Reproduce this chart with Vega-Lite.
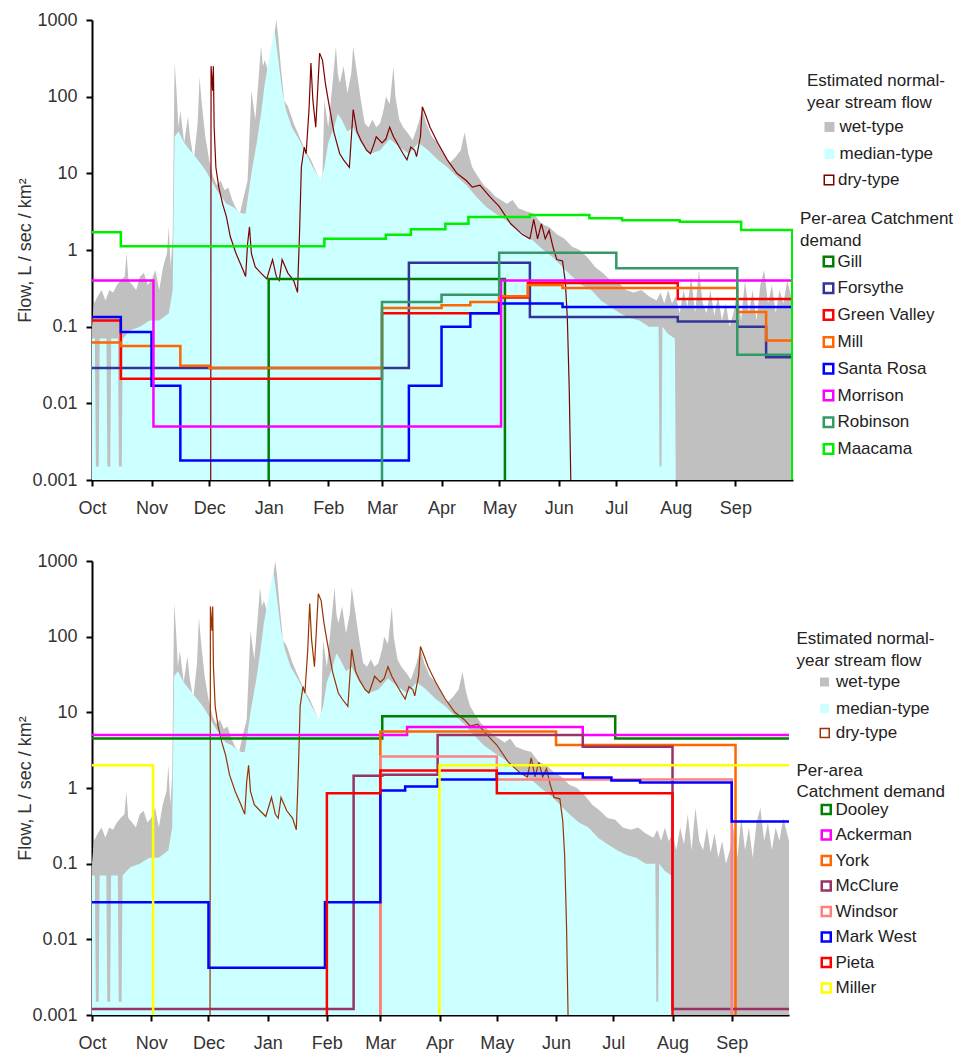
{
"$schema": "https://vega.github.io/schema/vega-lite/v6.json",
"padding": {"left": 16, "top": 11, "right": 5, "bottom": 5},
"spacing": 35,
"datasets": {
"flow": [
{"series":"wet-type","day":0,"value":0.1},{"series":"wet-type","day":1,"value":0.2},{"series":"wet-type","day":3,"value":0.25},{"series":"wet-type","day":5,"value":0.3},{"series":"wet-type","day":7,"value":0.22},{"series":"wet-type","day":9,"value":0.3},{"series":"wet-type","day":11,"value":0.28},{"series":"wet-type","day":13,"value":0.35},{"series":"wet-type","day":15,"value":0.4},{"series":"wet-type","day":17,"value":0.45},{"series":"wet-type","day":18,"value":0.9},{"series":"wet-type","day":19,"value":0.4},{"series":"wet-type","day":21,"value":0.35},{"series":"wet-type","day":23,"value":0.3},{"series":"wet-type","day":25,"value":0.45},{"series":"wet-type","day":27,"value":0.5},{"series":"wet-type","day":29,"value":0.35},{"series":"wet-type","day":31,"value":0.4},{"series":"wet-type","day":33,"value":0.55},{"series":"wet-type","day":35,"value":0.3},{"series":"wet-type","day":37,"value":0.6},{"series":"wet-type","day":39,"value":0.9},{"series":"wet-type","day":40,"value":2},{"series":"wet-type","day":41,"value":0.6},{"series":"wet-type","day":42,"value":1.5},{"series":"wet-type","day":43,"value":280},{"series":"wet-type","day":44,"value":120},{"series":"wet-type","day":45,"value":40},{"series":"wet-type","day":46,"value":65},{"series":"wet-type","day":48,"value":25},{"series":"wet-type","day":50,"value":55},{"series":"wet-type","day":51,"value":30},{"series":"wet-type","day":53,"value":15},{"series":"wet-type","day":55,"value":45},{"series":"wet-type","day":56,"value":180},{"series":"wet-type","day":57,"value":90},{"series":"wet-type","day":59,"value":30},{"series":"wet-type","day":61,"value":15},{"series":"wet-type","day":63,"value":9},{"series":"wet-type","day":65,"value":7},{"series":"wet-type","day":67,"value":8},{"series":"wet-type","day":69,"value":6},{"series":"wet-type","day":71,"value":6.5},{"series":"wet-type","day":73,"value":4.5},{"series":"wet-type","day":75,"value":3.5},{"series":"wet-type","day":77,"value":3},{"series":"wet-type","day":79,"value":5},{"series":"wet-type","day":81,"value":8},{"series":"wet-type","day":83,"value":120},{"series":"wet-type","day":85,"value":50},{"series":"wet-type","day":86,"value":100},{"series":"wet-type","day":88,"value":450},{"series":"wet-type","day":89,"value":250},{"series":"wet-type","day":90,"value":300},{"series":"wet-type","day":92,"value":200},{"series":"wet-type","day":94,"value":450},{"series":"wet-type","day":96,"value":1000},{"series":"wet-type","day":97,"value":600},{"series":"wet-type","day":98,"value":300},{"series":"wet-type","day":100,"value":90},{"series":"wet-type","day":102,"value":75},{"series":"wet-type","day":105,"value":45},{"series":"wet-type","day":108,"value":30},{"series":"wet-type","day":111,"value":20},{"series":"wet-type","day":114,"value":15},{"series":"wet-type","day":117,"value":10},{"series":"wet-type","day":119,"value":7.5},{"series":"wet-type","day":120,"value":10},{"series":"wet-type","day":121,"value":90},{"series":"wet-type","day":123,"value":40},{"series":"wet-type","day":125,"value":130},{"series":"wet-type","day":127,"value":450},{"series":"wet-type","day":128,"value":200},{"series":"wet-type","day":129,"value":150},{"series":"wet-type","day":131,"value":250},{"series":"wet-type","day":133,"value":110},{"series":"wet-type","day":135,"value":200},{"series":"wet-type","day":136,"value":450},{"series":"wet-type","day":138,"value":200},{"series":"wet-type","day":140,"value":90},{"series":"wet-type","day":142,"value":45},{"series":"wet-type","day":144,"value":40},{"series":"wet-type","day":146,"value":50},{"series":"wet-type","day":148,"value":40},{"series":"wet-type","day":150,"value":45},{"series":"wet-type","day":152,"value":70},{"series":"wet-type","day":153,"value":100},{"series":"wet-type","day":155,"value":80},{"series":"wet-type","day":157,"value":250},{"series":"wet-type","day":158,"value":100},{"series":"wet-type","day":160,"value":50},{"series":"wet-type","day":162,"value":40},{"series":"wet-type","day":165,"value":32},{"series":"wet-type","day":167,"value":27},{"series":"wet-type","day":170,"value":45},{"series":"wet-type","day":172,"value":70},{"series":"wet-type","day":174,"value":45},{"series":"wet-type","day":177,"value":30},{"series":"wet-type","day":180,"value":25},{"series":"wet-type","day":183,"value":18},{"series":"wet-type","day":186,"value":13.5},{"series":"wet-type","day":189,"value":16},{"series":"wet-type","day":192,"value":20},{"series":"wet-type","day":194,"value":34},{"series":"wet-type","day":196,"value":18},{"series":"wet-type","day":198,"value":12},{"series":"wet-type","day":201,"value":9},{"series":"wet-type","day":204,"value":7},{"series":"wet-type","day":207,"value":6},{"series":"wet-type","day":210,"value":5},{"series":"wet-type","day":213,"value":4.5},{"series":"wet-type","day":216,"value":4},{"series":"wet-type","day":219,"value":4.5},{"series":"wet-type","day":222,"value":3.5},{"series":"wet-type","day":226,"value":3.2},{"series":"wet-type","day":230,"value":3},{"series":"wet-type","day":234,"value":2.2},{"series":"wet-type","day":238,"value":2},{"series":"wet-type","day":242,"value":1.6},{"series":"wet-type","day":246,"value":1.4},{"series":"wet-type","day":250,"value":1.1},{"series":"wet-type","day":254,"value":1.0},{"series":"wet-type","day":258,"value":0.8},{"series":"wet-type","day":262,"value":0.6},{"series":"wet-type","day":266,"value":0.5},{"series":"wet-type","day":270,"value":0.4},{"series":"wet-type","day":274,"value":0.38},{"series":"wet-type","day":278,"value":0.3},{"series":"wet-type","day":282,"value":0.28},{"series":"wet-type","day":286,"value":0.3},{"series":"wet-type","day":290,"value":0.25},{"series":"wet-type","day":294,"value":0.22},{"series":"wet-type","day":296,"value":0.28},{"series":"wet-type","day":298,"value":0.2},{"series":"wet-type","day":300,"value":0.3},{"series":"wet-type","day":302,"value":0.2},{"series":"wet-type","day":304,"value":0.25},{"series":"wet-type","day":306,"value":0.15},{"series":"wet-type","day":308,"value":0.3},{"series":"wet-type","day":310,"value":0.18},{"series":"wet-type","day":312,"value":0.45},{"series":"wet-type","day":314,"value":0.15},{"series":"wet-type","day":316,"value":0.55},{"series":"wet-type","day":318,"value":0.2},{"series":"wet-type","day":320,"value":0.15},{"series":"wet-type","day":322,"value":0.3},{"series":"wet-type","day":324,"value":0.14},{"series":"wet-type","day":326,"value":0.25},{"series":"wet-type","day":328,"value":0.12},{"series":"wet-type","day":330,"value":0.2},{"series":"wet-type","day":332,"value":0.1},{"series":"wet-type","day":334,"value":0.15},{"series":"wet-type","day":336,"value":0.3},{"series":"wet-type","day":338,"value":0.12},{"series":"wet-type","day":340,"value":0.4},{"series":"wet-type","day":342,"value":0.15},{"series":"wet-type","day":344,"value":0.3},{"series":"wet-type","day":346,"value":0.12},{"series":"wet-type","day":348,"value":0.35},{"series":"wet-type","day":350,"value":0.55},{"series":"wet-type","day":352,"value":0.2},{"series":"wet-type","day":354,"value":0.35},{"series":"wet-type","day":356,"value":0.15},{"series":"wet-type","day":358,"value":0.3},{"series":"wet-type","day":360,"value":0.2},{"series":"wet-type","day":362,"value":0.4},{"series":"wet-type","day":364,"value":0.25},{"series":"wet-type","day":365,"value":0.2},
{"series":"median-type","day":0,"value":0.07},{"series":"median-type","day":1.5,"value":0.07},{"series":"median-type","day":2,"value":0.0015},{"series":"median-type","day":3.5,"value":0.0015},{"series":"median-type","day":4,"value":0.07},{"series":"median-type","day":7.5,"value":0.07},{"series":"median-type","day":8,"value":0.0015},{"series":"median-type","day":9.5,"value":0.0015},{"series":"median-type","day":10,"value":0.07},{"series":"median-type","day":13.5,"value":0.07},{"series":"median-type","day":14,"value":0.0015},{"series":"median-type","day":15.5,"value":0.0015},{"series":"median-type","day":16,"value":0.07},{"series":"median-type","day":20,"value":0.09},{"series":"median-type","day":25,"value":0.1},{"series":"median-type","day":30,"value":0.12},{"series":"median-type","day":35,"value":0.12},{"series":"median-type","day":40,"value":0.15},{"series":"median-type","day":42,"value":0.3},{"series":"median-type","day":43,"value":30},{"series":"median-type","day":45,"value":35},{"series":"median-type","day":48,"value":25},{"series":"median-type","day":51,"value":20},{"series":"median-type","day":55,"value":15},{"series":"median-type","day":58,"value":12},{"series":"median-type","day":60,"value":10},{"series":"median-type","day":65,"value":6},{"series":"median-type","day":70,"value":4},{"series":"median-type","day":73,"value":3.7},{"series":"median-type","day":78,"value":3},{"series":"median-type","day":80,"value":3},{"series":"median-type","day":83,"value":10},{"series":"median-type","day":86,"value":27},{"series":"median-type","day":88,"value":60},{"series":"median-type","day":90,"value":150},{"series":"median-type","day":93,"value":400},{"series":"median-type","day":95,"value":750},{"series":"median-type","day":97,"value":300},{"series":"median-type","day":99,"value":120},{"series":"median-type","day":101,"value":68},{"series":"median-type","day":104,"value":40},{"series":"median-type","day":108,"value":27},{"series":"median-type","day":112,"value":17},{"series":"median-type","day":115,"value":12},{"series":"median-type","day":119,"value":8},{"series":"median-type","day":121,"value":12},{"series":"median-type","day":123,"value":25},{"series":"median-type","day":126,"value":40},{"series":"median-type","day":128,"value":60},{"series":"median-type","day":130,"value":50},{"series":"median-type","day":133,"value":35},{"series":"median-type","day":136,"value":40},{"series":"median-type","day":140,"value":25},{"series":"median-type","day":145,"value":18},{"series":"median-type","day":150,"value":20},{"series":"median-type","day":155,"value":28},{"series":"median-type","day":160,"value":22},{"series":"median-type","day":165,"value":18},{"series":"median-type","day":170,"value":25},{"series":"median-type","day":175,"value":20},{"series":"median-type","day":180,"value":15},{"series":"median-type","day":185,"value":12},{"series":"median-type","day":190,"value":9},{"series":"median-type","day":195,"value":7},{"series":"median-type","day":200,"value":5},{"series":"median-type","day":205,"value":3.7},{"series":"median-type","day":210,"value":3},{"series":"median-type","day":215,"value":2.5},{"series":"median-type","day":220,"value":2},{"series":"median-type","day":225,"value":1.6},{"series":"median-type","day":230,"value":1.3},{"series":"median-type","day":235,"value":1.0},{"series":"median-type","day":240,"value":0.8},{"series":"median-type","day":245,"value":0.6},{"series":"median-type","day":250,"value":0.45},{"series":"median-type","day":255,"value":0.35},{"series":"median-type","day":260,"value":0.3},{"series":"median-type","day":265,"value":0.22},{"series":"median-type","day":270,"value":0.18},{"series":"median-type","day":275,"value":0.15},{"series":"median-type","day":280,"value":0.13},{"series":"median-type","day":285,"value":0.12},{"series":"median-type","day":290,"value":0.1},{"series":"median-type","day":295,"value":0.1},{"series":"median-type","day":295.5,"value":0.0015},{"series":"median-type","day":296.5,"value":0.0015},{"series":"median-type","day":297,"value":0.1},{"series":"median-type","day":300,"value":0.08},{"series":"median-type","day":303.5,"value":0.07},{"series":"median-type","day":304,"value":0.0005},
{"series":"dry-type","day":0,"value":0.0005},{"series":"dry-type","day":61.8,"value":0.0005},{"series":"dry-type","day":62,"value":250},{"series":"dry-type","day":62.8,"value":120},{"series":"dry-type","day":63.2,"value":250},{"series":"dry-type","day":63.6,"value":40},{"series":"dry-type","day":64.5,"value":12},{"series":"dry-type","day":66,"value":6.6},{"series":"dry-type","day":68,"value":4},{"series":"dry-type","day":70,"value":2.7},{"series":"dry-type","day":72,"value":1.5},{"series":"dry-type","day":75,"value":0.9},{"series":"dry-type","day":78,"value":0.6},{"series":"dry-type","day":80,"value":0.45},{"series":"dry-type","day":81,"value":1.2},{"series":"dry-type","day":82,"value":2},{"series":"dry-type","day":83,"value":0.9},{"series":"dry-type","day":85,"value":0.6},{"series":"dry-type","day":88,"value":0.5},{"series":"dry-type","day":91,"value":0.42},{"series":"dry-type","day":94,"value":0.75},{"series":"dry-type","day":96,"value":0.45},{"series":"dry-type","day":97.5,"value":0.4},{"series":"dry-type","day":99,"value":0.75},{"series":"dry-type","day":102,"value":0.5},{"series":"dry-type","day":105,"value":0.4},{"series":"dry-type","day":107,"value":0.28},{"series":"dry-type","day":108,"value":1.5},{"series":"dry-type","day":109,"value":12},{"series":"dry-type","day":110.5,"value":22},{"series":"dry-type","day":111.5,"value":18},{"series":"dry-type","day":113,"value":68},{"series":"dry-type","day":114,"value":275},{"series":"dry-type","day":115,"value":90},{"series":"dry-type","day":116.5,"value":40},{"series":"dry-type","day":118.5,"value":370},{"series":"dry-type","day":120,"value":300},{"series":"dry-type","day":121.5,"value":150},{"series":"dry-type","day":123,"value":90},{"series":"dry-type","day":126,"value":34},{"series":"dry-type","day":129,"value":18},{"series":"dry-type","day":131,"value":15},{"series":"dry-type","day":134,"value":12},{"series":"dry-type","day":136,"value":68},{"series":"dry-type","day":138,"value":35},{"series":"dry-type","day":140,"value":27},{"series":"dry-type","day":143,"value":20},{"series":"dry-type","day":145,"value":18},{"series":"dry-type","day":147,"value":25},{"series":"dry-type","day":148,"value":30},{"series":"dry-type","day":151,"value":25},{"series":"dry-type","day":153,"value":28},{"series":"dry-type","day":155,"value":40},{"series":"dry-type","day":157,"value":30},{"series":"dry-type","day":160,"value":22},{"series":"dry-type","day":162,"value":18},{"series":"dry-type","day":164,"value":15},{"series":"dry-type","day":166,"value":22},{"series":"dry-type","day":168,"value":20},{"series":"dry-type","day":169,"value":16.5},{"series":"dry-type","day":171,"value":30},{"series":"dry-type","day":172,"value":74},{"series":"dry-type","day":174,"value":55},{"series":"dry-type","day":176,"value":40},{"series":"dry-type","day":180,"value":25},{"series":"dry-type","day":185,"value":15},{"series":"dry-type","day":190,"value":10},{"series":"dry-type","day":195,"value":8},{"series":"dry-type","day":198,"value":6.6},{"series":"dry-type","day":202,"value":7},{"series":"dry-type","day":207,"value":5},{"series":"dry-type","day":212,"value":3.7},{"series":"dry-type","day":218,"value":2.2},{"series":"dry-type","day":224,"value":1.6},{"series":"dry-type","day":228,"value":1.4},{"series":"dry-type","day":230,"value":2.5},{"series":"dry-type","day":232,"value":1.4},{"series":"dry-type","day":234,"value":2.2},{"series":"dry-type","day":236,"value":1.4},{"series":"dry-type","day":238,"value":1.8},{"series":"dry-type","day":240,"value":1.1},{"series":"dry-type","day":242,"value":0.75},{"series":"dry-type","day":245,"value":0.72},{"series":"dry-type","day":246.5,"value":0.37},{"series":"dry-type","day":247.5,"value":0.13},{"series":"dry-type","day":248.5,"value":0.015},{"series":"dry-type","day":249.5,"value":0.0005},{"series":"dry-type","day":365,"value":0.0005}
],
"demandTop": [
{"catchment":"Gill","day":0,"value":0.0005},{"catchment":"Gill","day":92,"value":0.42},{"catchment":"Gill","day":215,"value":0.0005},{"catchment":"Gill","day":365,"value":0.0005},
{"catchment":"Forsythe","day":0,"value":0.029},{"catchment":"Forsythe","day":165,"value":0.68},{"catchment":"Forsythe","day":228,"value":0.134},{"catchment":"Forsythe","day":305,"value":0.117},{"catchment":"Forsythe","day":336,"value":0.1},{"catchment":"Forsythe","day":351,"value":0.04},{"catchment":"Forsythe","day":365,"value":0.04},
{"catchment":"Green Valley","day":0,"value":0.12},{"catchment":"Green Valley","day":15,"value":0.021},{"catchment":"Green Valley","day":151,"value":0.15},{"catchment":"Green Valley","day":212,"value":0.24},{"catchment":"Green Valley","day":227,"value":0.37},{"catchment":"Green Valley","day":305,"value":0.23},{"catchment":"Green Valley","day":365,"value":0.23},
{"catchment":"Mill","day":0,"value":0.062},{"catchment":"Mill","day":15,"value":0.056},{"catchment":"Mill","day":46,"value":0.031},{"catchment":"Mill","day":61,"value":0.029},{"catchment":"Mill","day":151,"value":0.175},{"catchment":"Mill","day":182,"value":0.19},{"catchment":"Mill","day":197,"value":0.21},{"catchment":"Mill","day":212,"value":0.25},{"catchment":"Mill","day":227,"value":0.35},{"catchment":"Mill","day":245,"value":0.32},{"catchment":"Mill","day":336,"value":0.155},{"catchment":"Mill","day":351,"value":0.066},{"catchment":"Mill","day":365,"value":0.066},
{"catchment":"Santa Rosa","day":0,"value":0.134},{"catchment":"Santa Rosa","day":15,"value":0.085},{"catchment":"Santa Rosa","day":31,"value":0.017},{"catchment":"Santa Rosa","day":46,"value":0.0018},{"catchment":"Santa Rosa","day":165,"value":0.017},{"catchment":"Santa Rosa","day":182,"value":0.1},{"catchment":"Santa Rosa","day":197,"value":0.15},{"catchment":"Santa Rosa","day":212,"value":0.2},{"catchment":"Santa Rosa","day":245,"value":0.18},{"catchment":"Santa Rosa","day":365,"value":0.18},
{"catchment":"Morrison","day":0,"value":0.4},{"catchment":"Morrison","day":32,"value":0.005},{"catchment":"Morrison","day":213,"value":0.4},{"catchment":"Morrison","day":365,"value":0.4},
{"catchment":"Robinson","day":0,"value":0.0005},{"catchment":"Robinson","day":151,"value":0.21},{"catchment":"Robinson","day":182,"value":0.26},{"catchment":"Robinson","day":212,"value":0.92},{"catchment":"Robinson","day":273,"value":0.58},{"catchment":"Robinson","day":336,"value":0.043},{"catchment":"Robinson","day":365,"value":0.043},
{"catchment":"Maacama","day":0,"value":1.7},{"catchment":"Maacama","day":15,"value":1.12},{"catchment":"Maacama","day":121,"value":1.4},{"catchment":"Maacama","day":153,"value":1.58},{"catchment":"Maacama","day":166,"value":1.87},{"catchment":"Maacama","day":184,"value":2.2},{"catchment":"Maacama","day":196,"value":2.7},{"catchment":"Maacama","day":228,"value":2.87},{"catchment":"Maacama","day":259,"value":2.6},{"catchment":"Maacama","day":276,"value":2.45},{"catchment":"Maacama","day":306,"value":2.33},{"catchment":"Maacama","day":338,"value":1.82},{"catchment":"Maacama","day":364.6,"value":0.0005}
],
"demandBottom": [
{"catchment":"Dooley","day":0,"value":4.5},{"catchment":"Dooley","day":152,"value":8.9},{"catchment":"Dooley","day":274,"value":4.5},{"catchment":"Dooley","day":365,"value":4.5},
{"catchment":"Ackerman","day":0,"value":5.0},{"catchment":"Ackerman","day":165,"value":6.4},{"catchment":"Ackerman","day":257,"value":5.0},{"catchment":"Ackerman","day":365,"value":5.0},
{"catchment":"York","day":0,"value":0.0005},{"catchment":"York","day":151,"value":5.6},{"catchment":"York","day":243,"value":3.7},{"catchment":"York","day":337,"value":0.0005},{"catchment":"York","day":365,"value":0.0005},
{"catchment":"McClure","day":0,"value":0.0012},{"catchment":"McClure","day":137,"value":1.45},{"catchment":"McClure","day":152,"value":1.5},{"catchment":"McClure","day":181,"value":5.0},{"catchment":"McClure","day":257,"value":3.5},{"catchment":"McClure","day":304,"value":0.0012},{"catchment":"McClure","day":365,"value":0.0012},
{"catchment":"Windsor","day":0,"value":0.0005},{"catchment":"Windsor","day":151,"value":2.6},{"catchment":"Windsor","day":212,"value":1.3},{"catchment":"Windsor","day":335,"value":0.0005},{"catchment":"Windsor","day":365,"value":0.0005},
{"catchment":"Mark West","day":0,"value":0.031},{"catchment":"Mark West","day":61,"value":0.0042},{"catchment":"Mark West","day":122,"value":0.031},{"catchment":"Mark West","day":151,"value":0.93},{"catchment":"Mark West","day":164,"value":1.05},{"catchment":"Mark West","day":181,"value":1.3},{"catchment":"Mark West","day":212,"value":1.55},{"catchment":"Mark West","day":257,"value":1.38},{"catchment":"Mark West","day":272,"value":1.26},{"catchment":"Mark West","day":287,"value":1.18},{"catchment":"Mark West","day":335,"value":0.36},{"catchment":"Mark West","day":365,"value":0.36},
{"catchment":"Pieta","day":0,"value":0.0005},{"catchment":"Pieta","day":123,"value":0.85},{"catchment":"Pieta","day":151,"value":1.7},{"catchment":"Pieta","day":212,"value":0.85},{"catchment":"Pieta","day":304,"value":0.0005},{"catchment":"Pieta","day":365,"value":0.0005},
{"catchment":"Miller","day":0,"value":2.0},{"catchment":"Miller","day":32,"value":0.0005},{"catchment":"Miller","day":182,"value":2.0},{"catchment":"Miller","day":365,"value":2.0}
]
},
"config": {
"font": "Liberation Sans",
"view": {"stroke": null},
"axis": {"grid": false, "domainColor": "#000", "domainWidth": 2, "tickColor": "#000", "tickWidth": 2, "tickSize": 6, "labelFont": "Liberation Sans", "labelFontSize": 18, "labelColor": "#333", "titleFont": "Liberation Sans", "titleFontSize": 18, "titleFontWeight": "normal", "titleColor": "#333"},
"legend": {"labelFont": "Liberation Sans", "labelFontSize": 17, "labelColor": "#222", "titleFont": "Liberation Sans", "titleFontSize": 17, "titleFontWeight": "normal", "titleColor": "#222", "titleLineHeight": 22, "padding": 0, "symbolType": "square", "direction": "vertical", "orient": "none", "labelLimit": 0, "titleLimit": 0}
},
"resolve": {"scale": {"x": "independent", "y": "independent", "fill": "independent", "stroke": "independent", "color": "independent"}, "legend": {"fill": "independent", "stroke": "independent", "color": "independent"}},
"vconcat": [
{
"width": 701, "height": 460,
"encoding": {
"x": {"field": "day", "type": "quantitative", "scale": {"domain": [0, 365], "nice": false, "zero": false}, "axis": {"title": null, "values": [0,31,61,92,123,151,182,212,243,273,304,335], "labelExpr": "['Oct','Nov','Dec','Jan','Feb','Mar','Apr','May','Jun','Jul','Aug','Sep'][indexof([0,31,61,92,123,151,182,212,243,273,304,335], datum.value)]", "labelFlush": false, "labelOverlap": false, "labelPadding": 13}},
"y": {"field": "value", "type": "quantitative", "scale": {"type": "log", "domain": [0.001, 1000], "nice": false}, "axis": {"title": "Flow, L / sec / km²", "values": [0.001,0.01,0.1,1,10,100,1000], "labelExpr": "format(datum.value, '.3~f')", "labelPadding": 9, "labelOverlap": false, "titleX": -67, "titleY": 230, "titleAngle": 270, "titleBaseline": "middle"}}
},
"layer": [
{"data": {"name": "flow"}, "transform": [{"filter": "datum.series === 'wet-type'"}], "mark": {"type": "area", "clip": true}, "encoding": {"y2": {"datum": 0.0005}, "fill": {"field": "series", "type": "nominal", "scale": {"domain": ["wet-type", "median-type"], "range": ["#C0C0C0", "#CCFFFF"]}, "legend": {"title": ["Estimated normal-", "year stream flow"], "legendX": 715, "legendY": 52.5, "symbolSize": 100, "symbolStrokeWidth": 0, "symbolOffset": 14, "labelOffset": 1.5, "rowPadding": 9, "titlePadding": 7}}}},
{"data": {"name": "flow"}, "transform": [{"filter": "datum.series === 'median-type'"}], "mark": {"type": "area", "clip": true}, "encoding": {"y2": {"datum": 0.0005}, "fill": {"field": "series", "type": "nominal"}}},
{"data": {"name": "flow"}, "transform": [{"filter": "datum.series === 'dry-type'"}], "mark": {"type": "line", "clip": true, "strokeWidth": 1.2}, "encoding": {"stroke": {"field": "series", "type": "nominal", "scale": {"domain": ["dry-type"], "range": ["#800000"]}, "legend": {"title": null, "legendX": 715, "legendY": 151.5, "symbolSize": 90, "symbolStrokeWidth": 1.5, "symbolFillColor": "transparent", "symbolOffset": 13.5, "labelOffset": 0.5}}}},
{"data": {"name": "demandTop"}, "mark": {"type": "line", "interpolate": "step-after", "clip": true, "strokeWidth": 2.5}, "encoding": {"color": {"field": "catchment", "type": "nominal", "scale": {"domain": ["Gill", "Forsythe", "Green Valley", "Mill", "Santa Rosa", "Morrison", "Robinson", "Maacama"], "range": ["#007F00", "#333399", "#FF0000", "#FF6600", "#0000FF", "#FF00FF", "#339966", "#00EE00"]}, "legend": {"title": ["Per-area Catchment", "demand"], "legendX": 708, "legendY": 190.5, "symbolSize": 90, "symbolStrokeWidth": 2.5, "symbolFillColor": "transparent", "symbolOffset": 20, "labelOffset": 0.5, "rowPadding": 5.8, "titlePadding": 3.5}}}}
]
},
{
"width": 697, "height": 454,
"encoding": {
"x": {"field": "day", "type": "quantitative", "scale": {"domain": [0, 365], "nice": false, "zero": false}, "axis": {"title": null, "values": [0,31,61,92,123,151,182,212,243,273,304,335], "labelExpr": "['Oct','Nov','Dec','Jan','Feb','Mar','Apr','May','Jun','Jul','Aug','Sep'][indexof([0,31,61,92,123,151,182,212,243,273,304,335], datum.value)]", "labelFlush": false, "labelOverlap": false, "labelPadding": 13}},
"y": {"field": "value", "type": "quantitative", "scale": {"type": "log", "domain": [0.001, 1000], "nice": false}, "axis": {"title": "Flow, L / sec / km²", "values": [0.001,0.01,0.1,1,10,100,1000], "labelExpr": "format(datum.value, '.3~f')", "labelPadding": 9, "labelOverlap": false, "titleX": -67, "titleY": 227, "titleAngle": 270, "titleBaseline": "middle"}}
},
"layer": [
{"data": {"name": "flow"}, "transform": [{"filter": "datum.series === 'wet-type'"}], "mark": {"type": "area", "clip": true}, "encoding": {"y2": {"datum": 0.0005}, "fill": {"field": "series", "type": "nominal", "scale": {"domain": ["wet-type", "median-type"], "range": ["#C0C0C0", "#CCFFFF"]}, "legend": {"title": ["Estimated normal-", "year stream flow"], "legendX": 704.5, "legendY": 70, "symbolSize": 81, "symbolStrokeWidth": 0, "symbolOffset": 19.5, "labelOffset": 3, "rowPadding": 8.5, "titlePadding": 3.5}}}},
{"data": {"name": "flow"}, "transform": [{"filter": "datum.series === 'median-type'"}], "mark": {"type": "area", "clip": true}, "encoding": {"y2": {"datum": 0.0005}, "fill": {"field": "series", "type": "nominal"}}},
{"data": {"name": "flow"}, "transform": [{"filter": "datum.series === 'dry-type'"}], "mark": {"type": "line", "clip": true, "strokeWidth": 1.2}, "encoding": {"stroke": {"field": "series", "type": "nominal", "scale": {"domain": ["dry-type"], "range": ["#993300"]}, "legend": {"title": null, "legendX": 704.5, "legendY": 163.5, "symbolSize": 81, "symbolStrokeWidth": 1.5, "symbolFillColor": "transparent", "symbolOffset": 19.75, "labelOffset": 2.5}}}},
{"data": {"name": "demandBottom"}, "mark": {"type": "line", "interpolate": "step-after", "clip": true, "strokeWidth": 2.5}, "encoding": {"color": {"field": "catchment", "type": "nominal", "scale": {"domain": ["Dooley", "Ackerman", "York", "McClure", "Windsor", "Mark West", "Pieta", "Miller"], "range": ["#008000", "#FF00FF", "#FF6600", "#993366", "#FF8080", "#0000FF", "#FF0000", "#FFFF00"]}, "legend": {"title": ["Per-area", "Catchment demand"], "legendX": 704.5, "legendY": 201.5, "symbolSize": 81, "symbolStrokeWidth": 2.5, "symbolFillColor": "transparent", "symbolOffset": 21.25, "labelOffset": 0.75, "rowPadding": 6.5, "titlePadding": 0.5, "titleLineHeight": 21}}}}
]
}
]
}
